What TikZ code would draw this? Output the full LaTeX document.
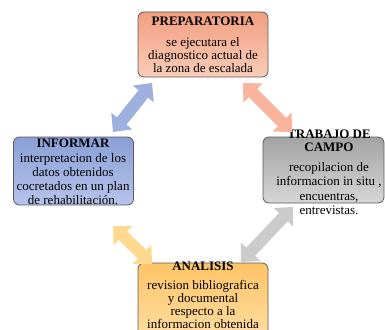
\documentclass[tikz,border=0pt]{standalone}
\usepackage{fontspec}
\setmainfont{Liberation Serif}
\usetikzlibrary{arrows.meta}

\definecolor{boxline}{HTML}{5A5A5A}
\definecolor{prepTop}{HTML}{F29E80}
\definecolor{prepBot}{HTML}{F9CDB8}
\definecolor{infoTop}{HTML}{8A9FD6}
\definecolor{infoBot}{HTML}{B5C4EA}
\definecolor{campTop}{HTML}{A3A3A3}
\definecolor{campBot}{HTML}{D6D6D6}
\definecolor{analTop}{HTML}{FFC466}
\definecolor{analBot}{HTML}{FFDFA6}
\definecolor{arrBlue}{HTML}{9EB0E0}
\definecolor{arrSalmon}{HTML}{F8B49C}
\definecolor{arrGray}{HTML}{CBCBCB}
\definecolor{arrYellow}{HTML}{FFD98F}

\begin{document}
\begin{tikzpicture}[x=1pt,y=-1pt,
  box/.style={draw=boxline, line width=0.8pt, rounded corners=6pt, inner sep=0pt},
  title/.style={font=\bfseries\fontsize{13}{13}\selectfont, align=center, inner sep=0pt},
  body/.style={font=\fontsize{13}{13.2}\selectfont, align=center, inner sep=0pt},
  dblarrow/.style={line width=12pt, {Triangle[width=26pt,length=14pt]}-{Triangle[width=26pt,length=14pt]}}]
\useasboundingbox (0,0) rectangle (385,329);

% cajas
\node[box, minimum width=130pt, minimum height=65pt, top color=prepTop, bottom color=prepBot] (prep) at (203,44.5) {};
\node[box, minimum width=120pt, minimum height=68pt, top color=infoTop, bottom color=infoBot] (info) at (73.5,171) {};
\node[box, minimum width=121pt, minimum height=66pt, top color=campTop, bottom color=campBot] (camp) at (323.5,170) {};
\node[box, minimum width=130pt, minimum height=80pt, top color=analTop, bottom color=analBot] (anal) at (203,303) {};

% textos
\node[title] (prepT) at (203,21) {PREPARATORIA};
\node[body] (prepB) at (203,55) {se ejecutara el\\diagnostico actual de\\la zona de escalada};
\node[title] (infoT) at (73,143) {INFORMAR};
\node[body, font=\fontsize{13}{14}\selectfont] (infoB) at (73,179) {interpretacion de los\\datos obtenidos\\cocretados en un plan\\de rehabilitación.};
\node[title, font=\bfseries\fontsize{13}{12.5}\selectfont] (campT) at (329,141) {TRABAJO DE\\CAMPO};
\node[body, font=\fontsize{13}{14.3}\selectfont] (campB) at (329,188.5) {recopilacion de\\informacion in situ ,\\encuentras,\\entrevistas.};
\node[title] (analT) at (203,266) {ANALISIS};
\node[body] (analB) at (203,304.5) {revision bibliografica\\y documental\\respecto a la\\informacion obtenida};

% flechas
\coordinate (b1) at (152,83);
\coordinate (b2) at (113,132);
\coordinate (s1) at (243,83);
\coordinate (s2) at (292,132);
\coordinate (g1) at (293,207);
\coordinate (g2) at (241,262);
\coordinate (y1) at (113,226);
\coordinate (y2) at (152,264);
\draw[dblarrow, arrBlue] (b1) -- (b2);
\draw[dblarrow, arrSalmon] (s1) -- (s2);
\draw[dblarrow, arrGray] (g1) -- (g2);
\draw[dblarrow, arrYellow] (y1) -- (y2);
\end{tikzpicture}
\end{document}
